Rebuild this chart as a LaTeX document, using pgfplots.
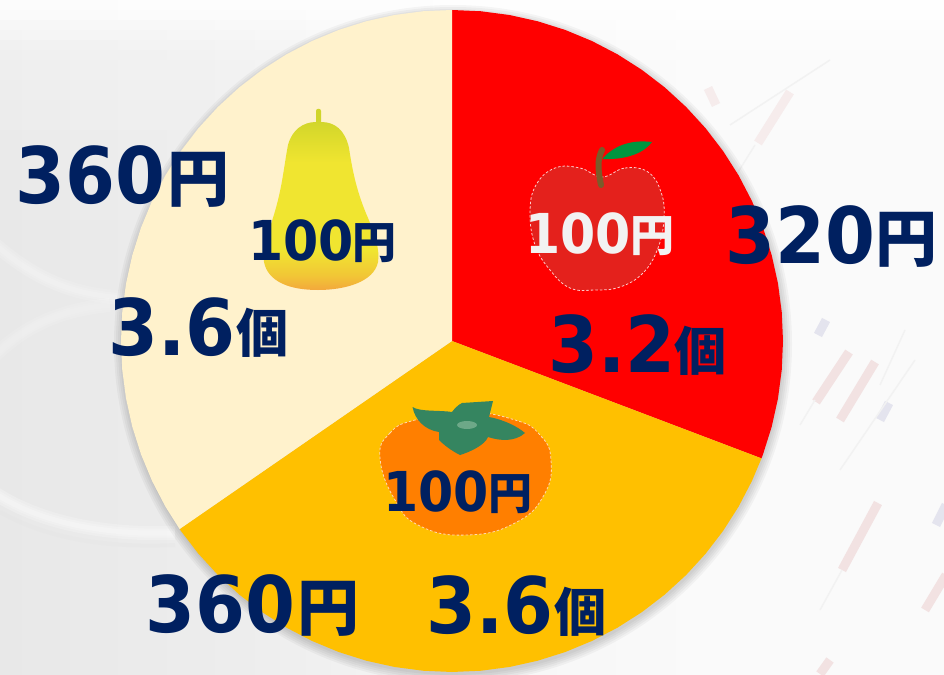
\documentclass[border=0pt]{standalone}
\usepackage{pgfplots}
\pgfplotsset{compat=1.18}
\usepackage{fontspec}
\setmainfont{DejaVu Sans}
\newfontfamily\dig[FakeStretch=0.92]{DejaVu Sans}
\newfontfamily\cjk{Noto Sans CJK JP}
\definecolor{navy}{HTML}{002060}
\definecolor{wred}{HTML}{FF0000}
\definecolor{wyel}{HTML}{FFC000}
\definecolor{wcre}{HTML}{FFF2CC}
\definecolor{po}{HTML}{F3A83C}
\definecolor{py}{HTML}{F0E530}
\definecolor{pg}{HTML}{D0D52A}
\definecolor{appl}{HTML}{E4211C}
\definecolor{stem}{HTML}{7B5B2A}
\definecolor{leaf}{HTML}{009640}
\definecolor{kaki}{HTML}{FF7F00}
\definecolor{kleaf}{HTML}{358560}
\definecolor{kcal}{HTML}{6DA888}
\definecolor{cp}{HTML}{F2E2E2}
\definecolor{cp2}{HTML}{F6ECEC}
\definecolor{cb}{HTML}{E4E4EE}
\pgfdeclareverticalshading{pear}{100bp}{color(0bp)=(po);color(25bp)=(po);color(29bp)=(po!50!py);color(36bp)=(py);color(60bp)=(py);color(72bp)=(pg);color(100bp)=(pg)}
\pgfdeclarehorizontalshading{bgh}{100bp}{color(0bp)=(black!9);color(25bp)=(black!9);color(38bp)=(black!7);color(50bp)=(black!3.5);color(62bp)=(black!2);color(75bp)=(black!2);color(100bp)=(black!2)}
\newcommand\digs[5]{\node[anchor=base west,inner sep=0pt,text=#5] at (#1,#2) {\fontsize{#3}{#3}\selectfont\dig\bfseries #4};}
\newcommand\kan[5]{\node[anchor=base west,inner sep=0pt,text=#5] at (#1,#2) {\fontsize{#3}{#3}\selectfont\cjk\bfseries #4};}
\newcommand\cand[5]{\draw[#5,line width=9pt] (#1,#2) -- (#3,#4);}
\newcommand\wick[4]{\draw[black!5,line width=1.5pt] (#1,#2) -- (#3,#4);}
\newcommand\shad[1]{\fill[black,opacity=.035] (453,344) ellipse [x radius=#1,y radius=#1];}
\newcommand\soft[2]{\draw[white,line width=14pt,opacity=#1] #2;\draw[white,line width=9pt,opacity=#1] #2;\draw[white,line width=5pt,opacity=#1] #2;}
\pgfplotsset{base/.style={scale only axis,width=944pt,height=674pt,hide axis,clip=false}}
\begin{document}
\begin{tikzpicture}
\path[use as bounding box,clip] (0,0) rectangle (944pt,674pt);
% background
\begin{axis}[base,xmin=0,xmax=944,ymin=0,ymax=674,y dir=reverse]
\shade[shading=bgh] (0,0) rectangle (944,674);
\fill[white,opacity=.9] (0,0) rectangle (944,10);
\fill[white,opacity=.8] (0,10) rectangle (944,20);
\fill[white,opacity=.68] (0,20) rectangle (944,30);
\fill[white,opacity=.55] (0,30) rectangle (944,40);
\fill[white,opacity=.42] (0,40) rectangle (944,50);
\fill[white,opacity=.34] (0,50) rectangle (944,60);
\fill[white,opacity=.3] (0,60) rectangle (944,80);
\fill[white,opacity=.25] (0,80) rectangle (944,100);
\fill[white,opacity=.2] (0,100) rectangle (944,130);
\fill[white,opacity=.12] (0,130) rectangle (944,170);
\fill[white,opacity=.06] (0,170) rectangle (944,220);
\soft{.22}{(-10,490) .. controls (40,525) and (110,535) .. (175,533)}
\soft{.1}{(-10,360) .. controls (25,325) and (60,310) .. (110,305)}
\soft{.14}{(-10,240) .. controls (40,285) and (80,295) .. (125,298)}
\draw[black!12,line width=4pt,opacity=.2] (0,512) .. controls (50,540) and (110,548) .. (175,545);
\cand{708}{88}{716}{105}{cp2}
\cand{790}{92}{758}{143}{cp2}
\cand{826}{320}{818}{335}{cb}
\cand{849}{352}{816}{402}{cp}
\cand{875}{362}{840}{420}{cp}
\cand{889}{403}{880}{420}{cb}
\cand{878}{503}{842}{570}{cp}
\cand{946}{505}{936}{525}{cb}
\cand{946}{575}{925}{610}{cp}
\cand{830}{660}{820}{674}{cp}
\wick{755}{145}{730}{185}
\wick{815}{400}{800}{425}
\wick{915}{360}{840}{470}
\wick{842}{570}{820}{610}
\wick{830}{60}{730}{125}
\wick{905}{330}{880}{385}
% shadow
\shad{339}\shad{337}\shad{335}\shad{333}\shad{331}
\end{axis}
% pie
\begin{axis}[base,xmin=-452,xmax=492,ymin=-333,ymax=341]
\addplot[draw=none,fill=wred,data cs=polar] coordinates {(0,0)(90,331)(85,331)(80,331)(75,331)(70,331)(65,331)(60,331)(55,331)(50,331)(45,331)(40,331)(35,331)(30,331)(25,331)(20,331)(15,331)(10,331)(5,331)(0,331)(-5,331)(-10,331)(-15,331)(-20,331)(-20.77,331)(0,0)};
\addplot[draw=none,fill=wyel,data cs=polar] coordinates {(0,0)(-20.77,331)(-25,331)(-30,331)(-35,331)(-40,331)(-45,331)(-50,331)(-55,331)(-60,331)(-65,331)(-70,331)(-75,331)(-80,331)(-85,331)(-90,331)(-95,331)(-100,331)(-105,331)(-110,331)(-115,331)(-120,331)(-125,331)(-130,331)(-135,331)(-140,331)(-145,331)(-145.38,331)(0,0)};
\addplot[draw=none,fill=wcre,data cs=polar] coordinates {(0,0)(-145.38,331)(-150,331)(-155,331)(-160,331)(-165,331)(-170,331)(-175,331)(-180,331)(-185,331)(-190,331)(-195,331)(-200,331)(-205,331)(-210,331)(-215,331)(-220,331)(-225,331)(-230,331)(-235,331)(-240,331)(-245,331)(-250,331)(-255,331)(-260,331)(-265,331)(-270,331)(0,0)};
\end{axis}
% fruits and labels
\begin{axis}[base,xmin=0,xmax=944,ymin=0,ymax=674,y dir=reverse]
% pear
\shade[shading=pear] (316,122) -- (316,111) .. controls (316,108) and (321,108) .. (321,111) -- (321,122) .. controls (335,122) and (345,130) .. (349,148) .. controls (353,175) and (358,195) .. (368,218) .. controls (375,235) and (380,250) .. (378,262) .. controls (374,282) and (345,290) .. (318,290) .. controls (290,290) and (268,282) .. (264,262) .. controls (262,245) and (272,225) .. (278,200) .. controls (283,180) and (285,160) .. (288,145) .. controls (292,130) and (303,122) .. (316,122) -- cycle;
% apple
\fill[leaf] (603,158) .. controls (612,148) and (628,139) .. (652,142) .. controls (645,152) and (628,160) .. (603,159) -- cycle;
\fill[appl] plot[smooth cycle,tension=.7] coordinates {(602,177)(625,168)(648,172)(661,192)(664,218)(658,248)(643,273)(620,287)(595,290)(570,288)(550,270)(535,245)(530,212)(536,185)(555,168)(580,168)};
\draw[white!80!red,line width=.8pt,dash pattern=on 2.5pt off 2pt] plot[smooth cycle,tension=.7] coordinates {(602,177)(625,168)(648,172)(661,192)(664,218)(658,248)(643,273)(620,287)(595,290)(570,288)(550,270)(535,245)(530,212)(536,185)(555,168)(580,168)};
\draw[stem,line width=6pt,line cap=round] (602,150) .. controls (597,160) and (598,170) .. (601,185);
% persimmon
\fill[kaki] plot[smooth cycle,tension=.8] coordinates {(380,458)(390,433)(415,420)(465,412)(515,420)(540,435)(551,460)(544,495)(515,523)(467,535)(420,526)(395,500)};
\draw[white!70!orange,line width=.8pt,dash pattern=on 2.5pt off 2pt] plot[smooth cycle,tension=.8] coordinates {(380,458)(390,433)(415,420)(465,412)(515,420)(540,435)(551,460)(544,495)(515,523)(467,535)(420,526)(395,500)};
\fill[kleaf] (412.5,407) .. controls (420,412) and (440,410) .. (452,412) .. controls (455,408) and (458,405) .. (462,403) -- (493,401) -- (489,417) .. controls (505,420) and (518,427) .. (525,433) .. controls (515,442) and (500,441) .. (488,437) .. controls (485,445) and (470,452) .. (460,455) .. controls (450,450) and (443,444) .. (439,440) -- (439,432) .. controls (425,430) and (415,420) .. (412.5,407) -- cycle;
\fill[kcal] (467,425) ellipse [x radius=10,y radius=4];
% labels
\digs{15}{203}{78}{360}{navy}\kan{167}{201}{62}{円}{navy}
\digs{108}{355}{78}{3.6}{navy}\kan{236}{352}{52}{個}{navy}
\digs{725}{263}{78}{320}{navy}\kan{875}{261}{62}{円}{navy}
\digs{548}{372}{78}{3.2}{navy}\kan{674}{370}{52}{個}{navy}
\digs{145}{632}{78}{360}{navy}\kan{297}{630}{62}{円}{navy}
\digs{426}{633}{78}{3.6}{navy}\kan{554}{631}{52}{個}{navy}
\digs{248}{260}{55}{100}{navy}\kan{352}{258}{44}{円}{navy}
\digs{525}{253}{55}{100}{white!95!black}\kan{630}{251}{44}{円}{white!95!black}
\digs{383}{511}{55}{100}{navy}\kan{488}{509}{44}{円}{navy}
\end{axis}
\end{tikzpicture}
\end{document}
